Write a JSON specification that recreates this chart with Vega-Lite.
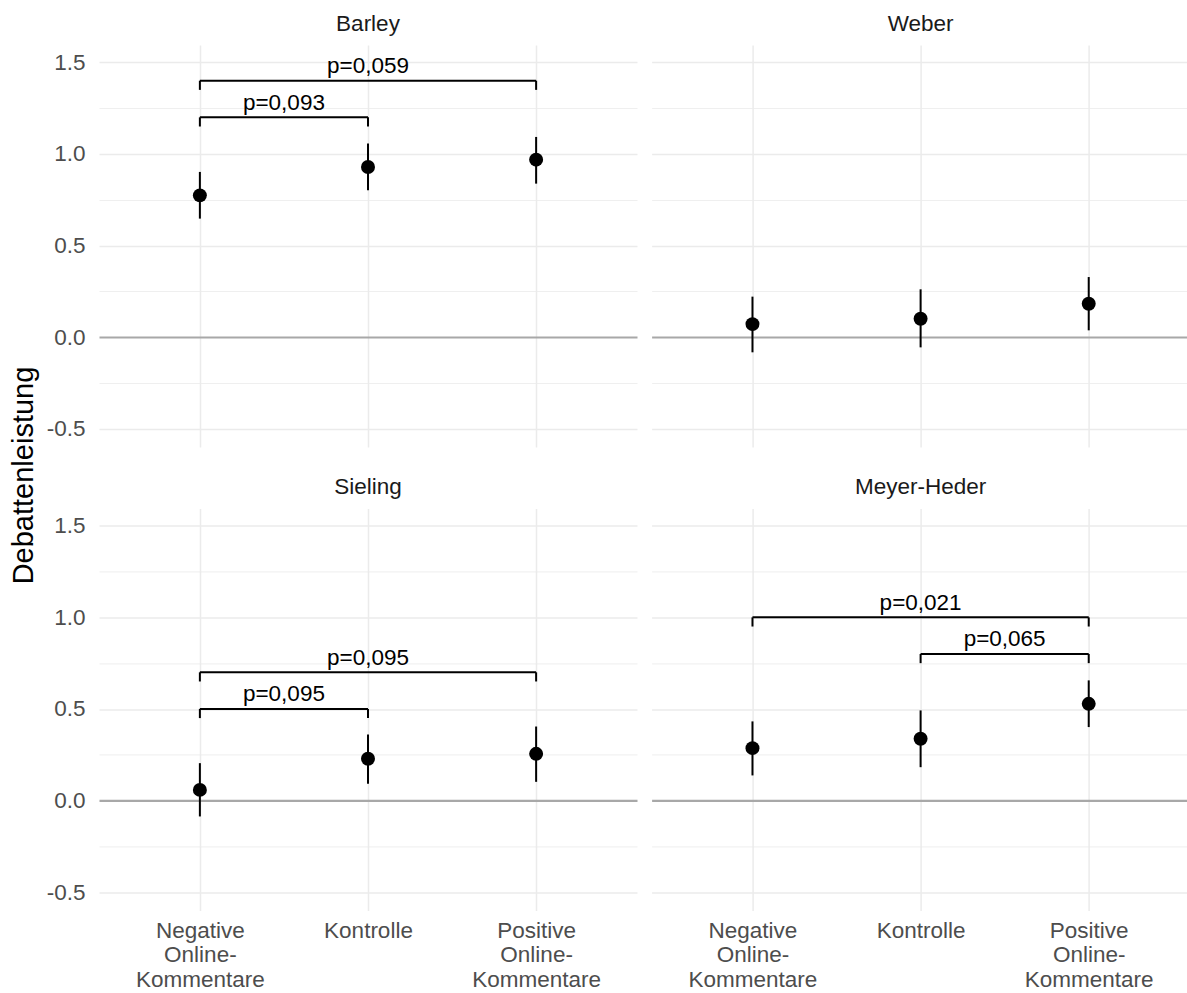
{
  "$schema": "https://vega.github.io/schema/vega-lite/v6.json",
  "background": "white",
  "padding": {"left": 10, "top": 12, "right": 0, "bottom": 0},
  "autosize": {"type": "pad"},
  "title": {
    "text": "Debattenleistung",
    "orient": "left",
    "anchor": "middle",
    "frame": "bounds",
    "fontSize": 29,
    "fontWeight": "normal",
    "color": "black",
    "font": "Liberation Sans",
    "offset": 7,
    "dx": 26
  },
  "data": {
    "values": [
      {"panel": "Barley", "kind": "pt", "xi": 1, "cond": "Negative Online-Kommentare", "v": 0.774, "lo": 0.647, "hi": 0.902},
      {"panel": "Barley", "kind": "pt", "xi": 2, "cond": "Kontrolle", "v": 0.929, "lo": 0.802, "hi": 1.057},
      {"panel": "Barley", "kind": "pt", "xi": 3, "cond": "Positive Online-Kommentare", "v": 0.969, "lo": 0.838, "hi": 1.093},
      {"panel": "Weber", "kind": "pt", "xi": 1, "cond": "Negative Online-Kommentare", "v": 0.071, "lo": -0.083, "hi": 0.221},
      {"panel": "Weber", "kind": "pt", "xi": 2, "cond": "Kontrolle", "v": 0.100, "lo": -0.056, "hi": 0.261},
      {"panel": "Weber", "kind": "pt", "xi": 3, "cond": "Positive Online-Kommentare", "v": 0.182, "lo": 0.037, "hi": 0.328},
      {"panel": "Sieling", "kind": "pt", "xi": 1, "cond": "Negative Online-Kommentare", "v": 0.058, "lo": -0.087, "hi": 0.204},
      {"panel": "Sieling", "kind": "pt", "xi": 2, "cond": "Kontrolle", "v": 0.228, "lo": 0.091, "hi": 0.361},
      {"panel": "Sieling", "kind": "pt", "xi": 3, "cond": "Positive Online-Kommentare", "v": 0.255, "lo": 0.102, "hi": 0.404},
      {"panel": "Meyer-Heder", "kind": "pt", "xi": 1, "cond": "Negative Online-Kommentare", "v": 0.286, "lo": 0.137, "hi": 0.432},
      {"panel": "Meyer-Heder", "kind": "pt", "xi": 2, "cond": "Kontrolle", "v": 0.337, "lo": 0.182, "hi": 0.492},
      {"panel": "Meyer-Heder", "kind": "pt", "xi": 3, "cond": "Positive Online-Kommentare", "v": 0.528, "lo": 0.401, "hi": 0.656},
      {"panel": "Barley", "kind": "br", "from": 1, "to": 2, "by": 1.2, "tip": 1.15, "label": "p=0,093"},
      {"panel": "Barley", "kind": "br", "from": 1, "to": 3, "by": 1.4, "tip": 1.35, "label": "p=0,059"},
      {"panel": "Sieling", "kind": "br", "from": 1, "to": 2, "by": 0.5, "tip": 0.45, "label": "p=0,095"},
      {"panel": "Sieling", "kind": "br", "from": 1, "to": 3, "by": 0.7, "tip": 0.65, "label": "p=0,095"},
      {"panel": "Meyer-Heder", "kind": "br", "from": 2, "to": 3, "by": 0.8, "tip": 0.75, "label": "p=0,065"},
      {"panel": "Meyer-Heder", "kind": "br", "from": 1, "to": 3, "by": 1.0, "tip": 0.95, "label": "p=0,021"}
    ]
  },
  "facet": {
    "field": "panel",
    "type": "nominal",
    "sort": ["Barley", "Weber", "Sieling", "Meyer-Heder"],
    "header": {
      "title": null,
      "labelFontSize": 22.5,
      "labelColor": "#1a1a1a",
      "labelFont": "Liberation Sans",
      "labelPadding": 10
    }
  },
  "columns": 2,
  "spacing": {"row": 28.4, "column": 14.6},
  "spec": {
    "width": 538,
    "height": 402,
    "layer": [
      {
        "transform": [{"filter": "datum.kind === 'pt'"}],
        "mark": {"type": "rule", "color": "black", "strokeWidth": 2},
        "encoding": {
          "x": {
            "field": "xi", "type": "quantitative", "title": null,
            "scale": {"domain": [0.4, 3.6], "nice": false, "zero": false},
            "axis": {
              "values": [1, 2, 3],
              "labelExpr": "datum.value == 1 ? ['Negative', 'Online-', 'Kommentare'] : datum.value == 2 ? 'Kontrolle' : ['Positive', 'Online-', 'Kommentare']",
              "grid": true, "gridColor": "#ebebeb", "gridWidth": 1.5,
              "ticks": false, "domain": false,
              "labelFontSize": 22.5, "labelColor": "#4d4d4d", "labelFont": "Liberation Sans",
              "labelPadding": 8, "labelLineHeight": 24.5, "labelFlush": false, "labelOverlap": false
            }
          },
          "y": {
            "field": "lo", "type": "quantitative", "title": null,
            "scale": {"domain": [-0.6, 1.595], "nice": false, "zero": false},
            "axis": {
              "values": [-0.5, -0.25, 0, 0.25, 0.5, 0.75, 1, 1.25, 1.5],
              "labelExpr": "abs(datum.value*2 - round(datum.value*2)) > 0.01 ? '' : replace(format(datum.value, '.1f'), '\u2212', '-')",
              "grid": true,
              "gridColor": {"condition": {"test": "datum.value === 0", "value": "#a8a8a8"}, "value": "#ebebeb"},
              "gridWidth": {"condition": [{"test": "datum.value === 0", "value": 2.2}, {"test": "abs(datum.value*2 - round(datum.value*2)) > 0.01", "value": 0.8}], "value": 1.5},
              "ticks": false, "domain": false,
              "labelFontSize": 22.5, "labelColor": "#4d4d4d", "labelFont": "Liberation Sans",
              "labelPadding": 14, "labelOverlap": false, "labelFlush": false
            }
          },
          "y2": {"field": "hi"}
        }
      },
      {
        "transform": [{"filter": "datum.kind === 'pt'"}],
        "mark": {"type": "circle", "color": "black", "opacity": 1, "size": 195},
        "encoding": {
          "x": {"field": "xi", "type": "quantitative", "title": null},
          "y": {"field": "v", "type": "quantitative", "title": null}
        }
      },
      {
        "transform": [{"filter": "datum.kind === 'br'"}],
        "mark": {"type": "rule", "color": "black", "strokeWidth": 2},
        "encoding": {
          "x": {"field": "from", "type": "quantitative", "title": null},
          "x2": {"field": "to"},
          "y": {"field": "by", "type": "quantitative", "title": null}
        }
      },
      {
        "transform": [
          {"filter": "datum.kind === 'br'"},
          {"fold": ["from", "to"], "as": ["end", "endx"]}
        ],
        "mark": {"type": "rule", "color": "black", "strokeWidth": 2},
        "encoding": {
          "x": {"field": "endx", "type": "quantitative", "title": null},
          "y": {"field": "by", "type": "quantitative", "title": null},
          "y2": {"field": "tip"}
        }
      },
      {
        "transform": [
          {"filter": "datum.kind === 'br'"},
          {"calculate": "(datum.from + datum.to) / 2", "as": "mid"}
        ],
        "mark": {"type": "text", "color": "black", "fontSize": 22.5, "font": "Liberation Sans", "baseline": "alphabetic", "dy": -7.5},
        "encoding": {
          "x": {"field": "mid", "type": "quantitative", "title": null},
          "y": {"field": "by", "type": "quantitative", "title": null},
          "text": {"field": "label"}
        }
      }
    ]
  },
  "config": {
    "view": {"stroke": null},
    "font": "Liberation Sans"
  }
}
